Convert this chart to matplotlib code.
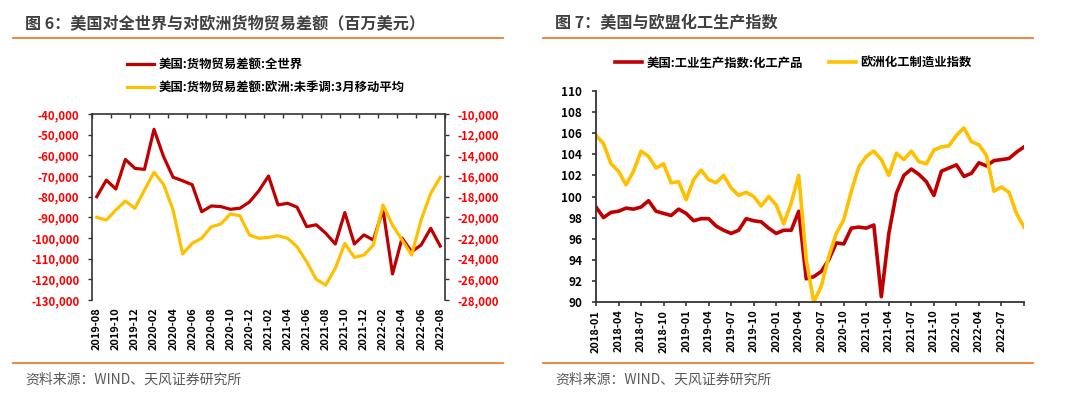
import matplotlib
matplotlib.use("Agg")
import matplotlib.pyplot as plt
import pandas as pd
from matplotlib.ticker import FixedLocator, FuncFormatter
from matplotlib.lines import Line2D

plt.rcParams['font.family'] = ['Noto Sans CJK SC', 'DejaVu Sans']

# ---------------- data: figure 6 ----------------
months6 = [p.strftime('%Y-%m') for p in pd.period_range('2019-08', '2022-08', freq='M')]
world_balance = [-80000, -72000, -76300, -62000, -66300, -66800, -47400, -60600, -70600, -72300,
                 -74200, -87300, -84500, -84800, -86100, -85600, -82600, -77100, -70000, -84000,
                 -83200, -85100, -94500, -93600, -97700, -102900, -87700, -102900, -98500, -101000,
                 -86100, -117400, -100100, -106600, -103400, -95300, -103900]
europe_balance = [-20000, -20260, -19290, -18420, -19130, -17360, -15640, -16810, -19290, -23550,
                  -22520, -22030, -20910, -20650, -19680, -19840, -21710, -22030, -21940, -21780,
                  -22030, -22850, -24300, -26000, -26550, -24940, -22520, -23870, -23650, -22680,
                  -18810, -20750, -22200, -23650, -20260, -17680, -16130]
name_world = '美国:货物贸易差额:全世界'
name_europe = '美国:货物贸易差额:欧洲:未季调:3月移动平均'

# ---------------- data: figure 7 ----------------
months7 = [p.strftime('%Y-%m') for p in pd.period_range('2018-01', '2022-10', freq='M')]
us_chem = [99.0, 98.0, 98.5, 98.6, 98.9, 98.8, 99.0, 99.6, 98.6, 98.4,
           98.2, 98.8, 98.4, 97.7, 97.9, 97.9, 97.2, 96.8, 96.5, 96.8,
           97.9, 97.7, 97.6, 97.0, 96.5, 96.8, 96.8, 98.6, 92.2, 92.4,
           92.9, 94.0, 95.6, 95.5, 97.0, 97.1, 97.0, 97.3, 90.5, 96.5,
           100.3, 102.0, 102.6, 102.1, 101.4, 100.1, 102.4, 102.7, 103.0, 101.9,
           102.2, 103.2, 102.9, 103.4, 103.5, 103.6, 104.2, 104.7]
eu_chem = [105.8, 105.0, 103.1, 102.4, 101.1, 102.4, 104.3, 103.8, 102.7, 103.1,
           101.3, 101.4, 99.7, 101.6, 102.5, 101.6, 101.3, 102.0, 100.8, 100.1,
           100.4, 100.0, 99.1, 100.0, 99.2, 97.4, 99.4, 102.0, 94.0, 90.0,
           91.5, 94.3, 96.5, 97.8, 100.5, 102.8, 103.8, 104.3, 103.5, 102.0,
           104.1, 103.5, 104.3, 103.3, 103.1, 104.4, 104.7, 104.8, 105.8, 106.5,
           105.2, 104.9, 103.9, 100.5, 100.9, 100.4, 98.4, 97.1]
name_us = '美国:工业生产指数:化工产品'
name_eu = '欧洲化工制造业指数'

RED = '#C00000'
YEL = '#FFC000'
ORANGE = '#ED7D31'
AX = '#333333'

W, H = 1080, 397
fig = plt.figure(figsize=(W / 100, H / 100), dpi=100)


def rect(x0, y0, x1, y1):
    return [x0 / W, 1 - y1 / H, (x1 - x0) / W, (y1 - y0) / H]


def hline(x0, x1, y):
    fig.add_artist(Line2D([x0 / W, x1 / W], [1 - y / H, 1 - y / H], color=ORANGE, lw=1.3))


# titles, rules, sources
fig.text(25 / W, 1 - 23 / H, '图 6：美国对全世界与对欧洲货物贸易差额（百万美元）',
         fontsize=11.6, fontweight='bold', color='#404040', va='center', ha='left')
fig.text(555 / W, 1 - 23 / H, '图 7：美国与欧盟化工生产指数',
         fontsize=11.6, fontweight='bold', color='#404040', va='center', ha='left')
hline(13, 503, 38)
hline(543, 1033, 38)
hline(13, 503, 363)
hline(543, 1033, 363)
fig.text(25 / W, 1 - 380 / H, '资料来源：WIND、天风证券研究所', fontsize=10,
         color='#595959', va='center', ha='left')
fig.text(555 / W, 1 - 380 / H, '资料来源：WIND、天风证券研究所', fontsize=10,
         color='#595959', va='center', ha='left')

# ---------------- figure 6 ----------------
x6 = list(range(len(months6)))
ax = fig.add_axes(rect(92, 114, 445, 300))
ax2 = ax.twinx()
ax.set_zorder(1)
ax2.set_zorder(2)
ax.patch.set_visible(False)
ax2.patch.set_visible(False)

l1, = ax.plot(x6, world_balance, color=RED, lw=2.3, solid_joinstyle='round', label=name_world)
l2, = ax2.plot(x6, europe_balance, color=YEL, lw=2.3, solid_joinstyle='round', label=name_europe)

ax.set_xlim(-0.5, len(months6) - 0.5)
ax.set_ylim(-130000, -40000)
ax.yaxis.set_major_locator(FixedLocator(list(range(-130000, -39999, 10000))))
ax2.set_ylim(-28000, -10000)
ax2.yaxis.set_major_locator(FixedLocator(list(range(-28000, -9999, 2000))))
fmt = FuncFormatter(lambda v, p: '{:,.0f}'.format(v))
ax.yaxis.set_major_formatter(fmt)
ax2.yaxis.set_major_formatter(fmt)

ax.set_xticks(x6[::2])
ax.set_xticklabels(months6[::2], rotation=90)
ax.xaxis.set_minor_locator(FixedLocator([v - 0.5 for v in x6[::2]] + [len(months6) - 0.5]))
ax.tick_params(axis='x', which='major', bottom=True, top=False, length=0, pad=5.5,
               labelsize=7.9, labelcolor='black')
ax.tick_params(axis='x', which='minor', bottom=False, top=True, direction='in',
               length=3, width=1, color=AX)
for lab in ax.get_xticklabels():
    lab.set_fontweight('bold')

ax.tick_params(axis='y', which='major', left=True, right=False, direction='out', length=3,
               width=1, color=AX, labelsize=8.2, labelcolor='#FF0000', pad=6)
ax2.tick_params(axis='y', which='major', right=True, left=False, direction='out', length=3,
                width=1, color=AX, labelsize=8.2, labelcolor='#FF0000', pad=6)
for lab in ax.get_yticklabels() + ax2.get_yticklabels():
    lab.set_fontweight('bold')

for s in ['bottom', 'right']:
    ax.spines[s].set_visible(False)
for s in ['left', 'top']:
    ax.spines[s].set_color(AX)
    ax.spines[s].set_linewidth(1.2)
for s in ['bottom', 'left', 'top']:
    ax2.spines[s].set_visible(False)
ax2.spines['right'].set_color(AX)
ax2.spines['right'].set_linewidth(1.2)

fig.legend(handles=[l1, l2], loc='center left', bbox_to_anchor=(127 / W, 1 - 76 / H),
           frameon=False, ncol=1, handlelength=2.2, handletextpad=0.35,
           labelspacing=0.8, borderpad=0, borderaxespad=0,
           prop={'weight': 'bold', 'size': 8.9})

# ---------------- figure 7 ----------------
x7 = list(range(len(months7)))
bx = fig.add_axes(rect(596, 91, 1024, 302))
m1, = bx.plot(x7, us_chem, color=RED, lw=2.6, solid_joinstyle='round', label=name_us)
m2, = bx.plot(x7, eu_chem, color=YEL, lw=2.6, solid_joinstyle='round', label=name_eu)
bx.set_xlim(0, len(months7) - 1)
bx.set_ylim(90, 110)
bx.yaxis.set_major_locator(FixedLocator(list(range(90, 111, 2))))
ticks7 = x7[::3]
bx.set_xticks(ticks7)
bx.set_xticklabels([months7[i] if i < len(months7) - 3 else '' for i in ticks7], rotation=90)
bx.tick_params(axis='x', direction='out', length=3, width=1.2, color=AX, labelsize=7.9, pad=2.5)
bx.tick_params(axis='y', direction='out', length=3, width=1.2, color=AX, labelsize=8.5, pad=7)
for lab in bx.get_xticklabels() + bx.get_yticklabels():
    lab.set_fontweight('bold')
for s in ['top', 'right']:
    bx.spines[s].set_visible(False)
for s in ['left', 'bottom']:
    bx.spines[s].set_color(AX)
    bx.spines[s].set_linewidth(1.3)

fig.legend(handles=[m1, m2], loc='center left', bbox_to_anchor=(615 / W, 1 - 63 / H),
           frameon=False, ncol=2, handlelength=2.2, handletextpad=0.35,
           columnspacing=2.1, borderpad=0, borderaxespad=0,
           prop={'weight': 'bold', 'size': 8.9})

fig.savefig('out.png', dpi=100, facecolor='white')
